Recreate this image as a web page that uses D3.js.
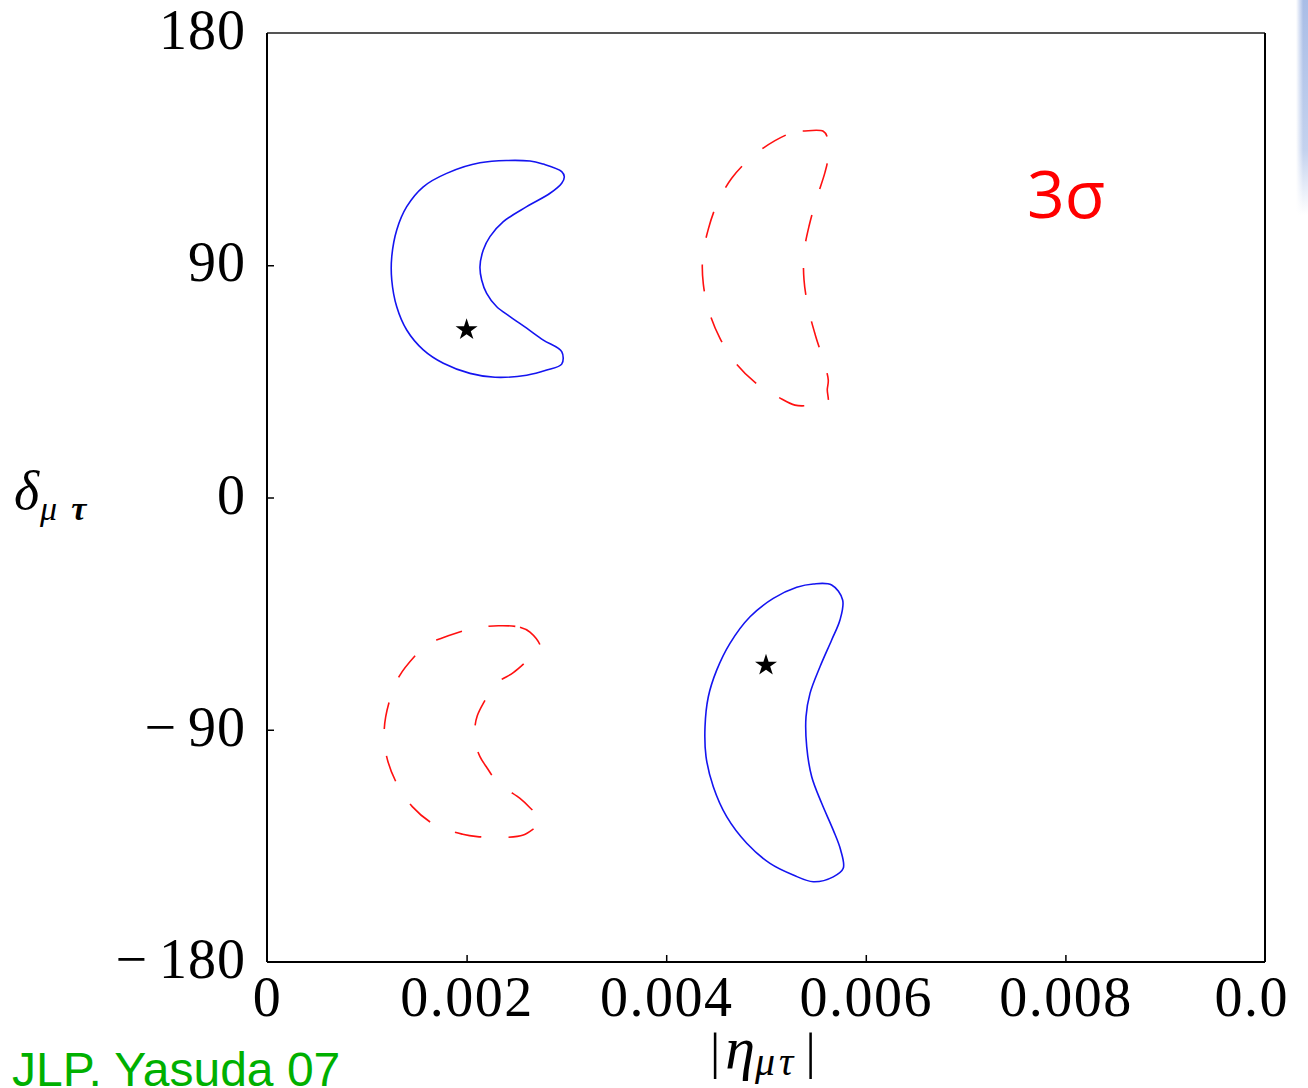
<!DOCTYPE html>
<html><head><meta charset="utf-8">
<script src="https://cdn.jsdelivr.net/npm/d3@7"></script>
<style>
html,body{margin:0;padding:0;background:#fff;overflow:hidden;}
svg{display:block;}
</style></head>
<body>
<svg id="chart" width="1308" height="1088"></svg>
<script>
// ---------- data ----------
const xTickValues = [0, 0.002, 0.004, 0.006, 0.008, 0.01];
const xTickLabels = ["0", "0.002", "0.004", "0.006", "0.008", "0.0"];
const yTickValues = [-180, -90, 0, 90, 180];
const yTickLabels = ["\u2212180", "\u221290", "0", "90", "180"];

// solid blue contour, upper left  [eta, delta]
const blueUpper = [
  [0.002134,129.7],[0.002635,130.4],[0.002769,129.2],[0.002953,126.3],[0.002979,124.3],
  [0.002953,121.8],[0.002836,117.9],[0.002602,112.7],[0.002368,106.9],[0.002234,101.1],
  [0.002167,95.9],[0.002134,89.4],[0.002151,84.3],[0.002201,79.1],[0.002302,73.9],
  [0.002435,70.1],[0.002602,65.6],[0.002769,61.0],[0.002953,56.5],[0.002953,51.7],
  [0.002803,49.4],[0.002602,47.4],[0.002285,46.6],[0.002034,48.1],[0.001767,52.0],
  [0.001566,57.2],[0.0014,64.9],[0.0013,73.9],[0.00125,84.3],[0.00125,93.3],
  [0.0013,103.7],[0.0014,112.7],[0.001566,120.4],[0.0018,125.6]
];
// solid blue contour, lower right
const blueLower = [
  [0.005474,-33.5],[0.005658,-33.9],[0.005768,-39.7],[0.005741,-47.5],[0.005658,-55.2],
  [0.005541,-65.6],[0.005441,-75.9],[0.005401,-84.9],[0.005408,-96.6],[0.005458,-108.2],
  [0.005558,-118.5],[0.005674,-128.9],[0.005748,-136.6],[0.005774,-143.7],[0.005674,-147.0],
  [0.005474,-148.9],[0.005273,-146.3],[0.00504,-141.8],[0.004807,-134.0],[0.004606,-123.7],
  [0.004472,-112.1],[0.004399,-100.4],[0.004389,-88.8],[0.004422,-77.2],[0.004506,-66.9],
  [0.004639,-56.5],[0.00484,-46.2],[0.005073,-39.1],[0.005308,-34.8]
];
// dashed red contour, upper right
const redUpper = [
  [0.005308,142.0],[0.005368,142.0],[0.005574,141.9],[0.005618,139.2],[0.005618,137.3],
  [0.005618,130.8],[0.005591,126.0],[0.005508,115.9],[0.005434,105.6],[0.005381,94.9],
  [0.005381,84.3],[0.005424,73.3],[0.005494,63.0],[0.005581,52.4],[0.005624,45.5],
  [0.005614,41.9],[0.005614,36.5],[0.005418,35.6],[0.00529,35.8],[0.005133,38.7],
  [0.00489,44.6],[0.004689,52.4],[0.004539,61.7],[0.004432,71.8],[0.004372,82.7],
  [0.004366,93.3],[0.004422,104.0],[0.004512,114.0],[0.004656,123.7],[0.00485,131.7],
  [0.00509,138.3]
];
// dashed red contour, lower left
const redLower = [
  [0.002318,-49.7],[0.002535,-50.3],[0.002635,-52.2],[0.002742,-58.2],[0.002685,-60.4],
  [0.002468,-67.9],[0.002335,-71.0],[0.002241,-75.3],[0.002167,-79.8],[0.002107,-84.6],
  [0.002084,-88.8],[0.002087,-95.0],[0.002134,-100.4],[0.002207,-104.9],[0.002302,-110.1],
  [0.002402,-113.1],[0.002535,-116.6],[0.002635,-120.2],[0.002758,-125.6],[0.002678,-128.2],
  [0.002568,-130.8],[0.002408,-131.7],[0.002107,-131.4],[0.001961,-130.5],[0.001683,-126.9],
  [0.001456,-119.8],[0.0013,-110.8],[0.001199,-100.4],[0.001175,-89.7],[0.001225,-79.1],
  [0.001326,-69.2],[0.001506,-60.4],[0.0016,-56.9],[0.001743,-54.6],[0.002034,-51.0]
];
// best-fit points (stars)
const bestFit = [[0.002, 65], [0.005, -65]];

// ---------- layout ----------
const svg = d3.select("#chart");
const L = 267, R = 1265, T = 33, B = 962;
const x = d3.scaleLinear().domain([0, 0.01]).range([L, R]);
const y = d3.scaleLinear().domain([-180, 180]).range([B, T]);
const serif = "'Liberation Serif','Times New Roman',serif";

// slide background sliver at right edge
const defs = svg.append("defs");
const grad = defs.append("linearGradient").attr("id","edge").attr("x1",0).attr("y1",0).attr("x2",0).attr("y2",1);
grad.append("stop").attr("offset","0%").attr("stop-color","#a9bde6");
grad.append("stop").attr("offset","70%").attr("stop-color","#c4d2ee");
grad.append("stop").attr("offset","100%").attr("stop-color","#ffffff");
const edgeGrad = defs.append("linearGradient").attr("id","edgeH").attr("x1",0).attr("y1",0).attr("x2",1).attr("y2",0);
edgeGrad.append("stop").attr("offset","0%").attr("stop-color","#fff").attr("stop-opacity",1);
edgeGrad.append("stop").attr("offset","60%").attr("stop-color","#fff").attr("stop-opacity",0);
svg.append("rect").attr("x",1296).attr("y",0).attr("width",12).attr("height",215).attr("fill","url(#edge)");
svg.append("rect").attr("x",1296).attr("y",0).attr("width",12).attr("height",215).attr("fill","url(#edgeH)");

// contours
const line = d3.line().x(d => x(d[0])).y(d => y(d[1])).curve(d3.curveCatmullRomClosed.alpha(0.5));
svg.selectAll("path.blue").data([blueUpper, blueLower]).join("path")
  .attr("class","blue").attr("d", line)
  .attr("fill","none").attr("stroke","#1414f0").attr("stroke-width",1.6);
svg.selectAll("path.red").data([redUpper, redLower]).join("path")
  .attr("class","red").attr("d", line)
  .attr("fill","none").attr("stroke","#ff1010").attr("stroke-width",1.6)
  .attr("stroke-dasharray","27,27");

// stars
svg.selectAll("path.star").data(bestFit).join("path")
  .attr("class","star")
  .attr("transform", d => `translate(${x(d[0])},${y(d[1])})`)
  .attr("d", d3.symbol(d3.symbolStar, 150))
  .attr("fill","#000");

// axes
const xAxis = d3.axisBottom(x).tickValues(xTickValues)
  .tickFormat((d,i) => xTickLabels[i]).tickSizeInner(-7).tickSizeOuter(0).tickPadding(14);
const gx = svg.append("g").attr("transform",`translate(0,${B})`).call(xAxis);
gx.select(".domain").remove();
gx.selectAll(".tick line").attr("stroke","#000").attr("stroke-width",1.5);
gx.selectAll(".tick text").attr("font-family",serif).attr("font-size",56).attr("fill","#000")
  .attr("letter-spacing",1.5);
// last label is cut at the picture's edge: keep its left edge where the full label would start
gx.selectAll(".tick text").filter((d,i) => i === xTickLabels.length - 1)
  .attr("text-anchor","start").attr("x",-51);
gx.selectAll(".tick line").filter(d => d === 0 || d === 0.01).remove();

const yAxis = d3.axisLeft(y).tickValues(yTickValues)
  .tickFormat((d,i) => yTickLabels[i]).tickSizeInner(-7).tickSizeOuter(0).tickPadding(21);
const gy = svg.append("g").attr("transform",`translate(${L},0)`).call(yAxis);
gy.select(".domain").remove();
gy.selectAll(".tick line").attr("stroke","#000").attr("stroke-width",1.5);
gy.selectAll(".tick line").filter(d => d === 180 || d === -180).remove();
gy.selectAll(".tick text").attr("font-family",serif).attr("font-size",56).attr("fill","#000")
  .attr("letter-spacing",1).attr("dy","0.28em");
// put TeX-like spacing after the minus sign
gy.selectAll(".tick text").each(function() {
  const t = d3.select(this), s = t.text();
  if (s.startsWith("\u2212")) {
    t.text(null);
    t.append("tspan").text("\u2212");
    t.append("tspan").attr("dx",11).text(s.slice(1));
  }
});

// frame
svg.append("line").attr("x1",L).attr("x2",R).attr("y1",T).attr("y2",T).attr("stroke","#555").attr("stroke-width",1.8);
svg.append("line").attr("x1",L).attr("x2",L).attr("y1",T).attr("y2",B).attr("stroke","#000").attr("stroke-width",2);
svg.append("line").attr("x1",R).attr("x2",R).attr("y1",T).attr("y2",B).attr("stroke","#000").attr("stroke-width",2);
svg.append("line").attr("x1",L).attr("x2",R).attr("y1",B).attr("y2",B).attr("stroke","#000").attr("stroke-width",2);

// y-axis title  δ_{μτ}
const yt = svg.append("text").attr("x",14).attr("y",509).attr("font-family",serif).attr("fill","#000");
yt.append("tspan").attr("font-size",54).attr("font-style","italic").text("δ");
yt.append("tspan").attr("font-size",34).attr("font-style","italic").attr("dy",11).attr("dx",1).text("μ");
yt.append("tspan").attr("font-size",34).attr("font-weight","bold").attr("font-style","italic").attr("dx",14).text("τ");

// x-axis title |η_{μτ}|
const xt = svg.append("text").attr("x",710).attr("y",1068).attr("font-family",serif).attr("fill","#000");
xt.append("tspan").attr("font-size",51).text("|");
xt.append("tspan").attr("font-size",60).attr("font-style","italic").attr("dx",5).text("η");
xt.append("tspan").attr("font-size",40).attr("font-style","italic").attr("dy",7).attr("letter-spacing",4).text("μτ");
xt.append("tspan").attr("font-size",51).attr("dy",-7).attr("dx",8).text("|");

// annotations
svg.append("text").attr("x",1027).attr("y",218).attr("font-family","'Open Sans','Liberation Sans',sans-serif")
  .attr("font-size",66).attr("fill","#ff0000").text("3σ");
svg.append("text").attr("x",12).attr("y",1086).attr("font-family","'Liberation Sans',Arial,sans-serif")
  .attr("font-size",48).attr("fill","#00b000").text("JLP. Yasuda 07");
</script>
</body></html>
